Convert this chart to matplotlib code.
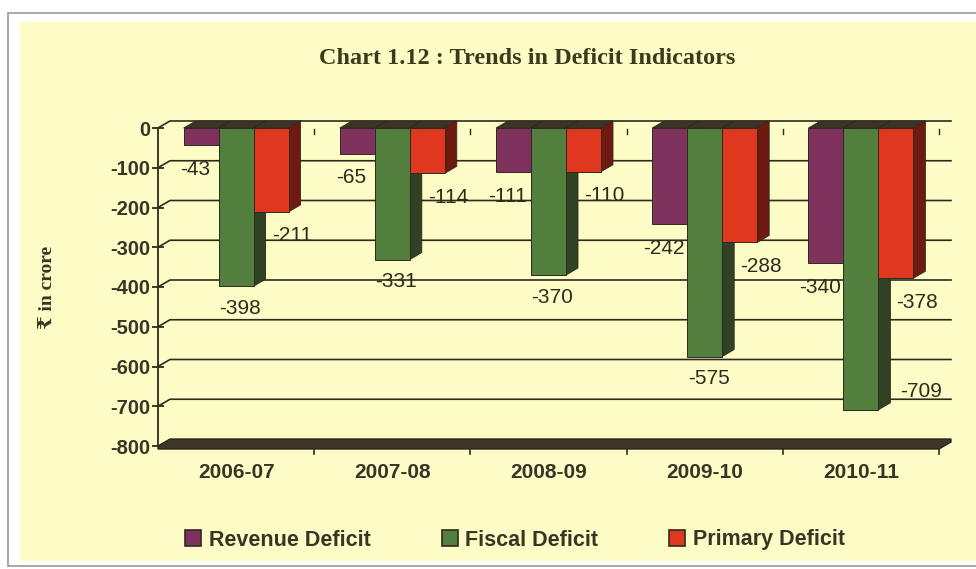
import matplotlib
matplotlib.use("Agg")
import matplotlib.pyplot as plt
from matplotlib.patches import Polygon, Rectangle, Patch

# ---- data ----
categories = ["2006-07", "2007-08", "2008-09", "2009-10", "2010-11"]
series_names = ["Revenue Deficit", "Fiscal Deficit", "Primary Deficit"]
revenue_deficit = [-43, -65, -111, -242, -340]
fiscal_deficit = [-398, -331, -370, -575, -709]
primary_deficit = [-211, -114, -110, -288, -378]
y_ticks = [0, -100, -200, -300, -400, -500, -600, -700, -800]
title = "Chart 1.12 : Trends in Deficit Indicators"
y_label = "\u20b9 in crore"

# ---- style ----
W, H = 976, 569
BG = "#FDFCC6"
TXT = "#3a3424"
front_cols = ["#80325F", "#527F3E", "#E0381E"]
side_cols = ["#4A1C34", "#2F4224", "#6E1A10"]
edge = "#2e2a1e"

fig = plt.figure(figsize=(W / 100, H / 100), dpi=100)
fig.patch.set_facecolor("white")
# outer frame and yellow panel
fig.patches.append(Rectangle((8 / W, 1 - 566 / H), 1.2, 553 / H, transform=fig.transFigure,
                             facecolor="white", edgecolor="#9a9a9a", linewidth=1.2, zorder=-3))
fig.patches.append(Rectangle((20 / W, 1 - 561 / H), 1.2, 539 / H, transform=fig.transFigure,
                             facecolor=BG, edgecolor="none", zorder=-2))

x0px, x1px, ytop, ybot = 158, 939, 128, 446
ax = fig.add_axes([x0px / W, 1 - ybot / H, (x1px - x0px) / W, (ybot - ytop) / H])
ax.set_zorder(1)
ax.set_xlim(-0.5, 4.5)
ax.set_ylim(-800, 0)
ax.patch.set_alpha(0)
for s in ["top", "right", "bottom"]:
    ax.spines[s].set_visible(False)
ax.spines["left"].set_color(edge)
ax.spines["left"].set_linewidth(1.3)

ncat = len(categories)
px_per_x = (x1px - x0px) / ncat
px_per_y = (ybot - ytop) / 800
dx = 12 / px_per_x
dy = 7 / px_per_y

# back-wall gridlines
for v in y_ticks[:-1]:
    ax.plot([-0.5, -0.5 + dx, 4.5 + dx], [v, v + dy, v + dy], color=edge, lw=1.2,
            clip_on=False, zorder=1)
# floor slab
th = 3 / px_per_y
ax.add_patch(Polygon([(-0.5, -800 - th), (4.5, -800 - th), (4.5 + dx, -800 + dy - th),
                      (4.5 + dx, -800 + dy), (-0.5 + dx, -800 + dy), (-0.5, -800)],
                     closed=True, facecolor="#3b3628", edgecolor="#2a261b", lw=1,
                     clip_on=False, zorder=2))

ax.set_yticks(y_ticks)
ax.set_yticklabels([str(v) for v in y_ticks], fontsize=14.5, fontweight="bold",
                   color=TXT, family="Liberation Sans")
ax.tick_params(axis="y", direction="inout", length=9, width=1.3, color=edge, pad=1)
ax.set_xticks(range(ncat))
ax.set_xticklabels(categories, fontsize=15, fontweight="bold", color=TXT,
                   family="Liberation Sans")
ax.tick_params(axis="x", length=0, pad=12)

# category boundary marks at floor and at zero line
for b in [k + 0.5 for k in range(ncat)]:
    ax.plot([b, b], [-800 - th, -800 - th - 5 / px_per_y], color=edge, lw=1.2,
            clip_on=False, zorder=3)
    ax.plot([b, b], [0 - 1 / px_per_y, 0 - 6 / px_per_y], color=edge, lw=1.0,
            clip_on=False, zorder=1.5)

bw = 0.224
all_series = [revenue_deficit, fiscal_deficit, primary_deficit]
label_off = [(-6, -24), (4, -22), (21, -24)]
z = 4
for i, vals in enumerate(all_series):
    off = (i - 1) * bw
    for k, v in enumerate(vals):
        xl = k + off - bw / 2
        xr = xl + bw
        # top cap at zero
        ax.add_patch(Polygon([(xl, 0), (xr, 0), (xr + dx, dy), (xl + dx, dy)], closed=True,
                             facecolor="#3d3327", edgecolor=edge, lw=0.6, clip_on=False, zorder=z))
        # side face
        ax.add_patch(Polygon([(xr, 0), (xr + dx, dy), (xr + dx, v + dy), (xr, v)], closed=True,
                             facecolor=side_cols[i], edgecolor=edge, lw=0.6, clip_on=False,
                             zorder=z + 0.1))
    ax.bar([k + off for k in range(ncat)], vals, width=bw, color=front_cols[i],
           edgecolor=edge, linewidth=0.7, zorder=z + 0.2)
    z += 1

for i, vals in enumerate(all_series):
    off = (i - 1) * bw
    for k, v in enumerate(vals):
        ox, oy = label_off[i]
        if v < -650:
            ox, oy = 60, 18
        ax.annotate(str(v), (k + off, v), xytext=(ox, oy), textcoords="offset pixels",
                    ha="center", va="center", fontsize=15, color="#2f2a1d",
                    family="Liberation Sans", zorder=10)

fig.text(527 / W, 1 - 58 / H, title, ha="center", va="center", fontsize=17.5,
         fontweight="bold", color="#3d3a1c", family="Liberation Serif")
fig.text(48 / W, 1 - 287 / H, y_label, ha="center", va="center", rotation=90,
         fontsize=14, fontweight="bold", color=TXT,
         family=["Liberation Serif", "DejaVu Serif", "DejaVu Sans"])

handles = [Patch(facecolor=front_cols[i], edgecolor=edge, linewidth=1.2) for i in range(3)]
leg = fig.legend(handles, series_names, loc="center", bbox_to_anchor=(515 / W, 1 - 540 / H),
                 ncol=3, frameon=False, handlelength=0.75, handleheight=0.75,
                 handletextpad=0.35, columnspacing=3.3,
                 prop={"family": "Liberation Sans", "weight": "bold", "size": 15.5})
for t in leg.get_texts():
    t.set_color(TXT)

fig.savefig("out.png", dpi=100, facecolor="white")
